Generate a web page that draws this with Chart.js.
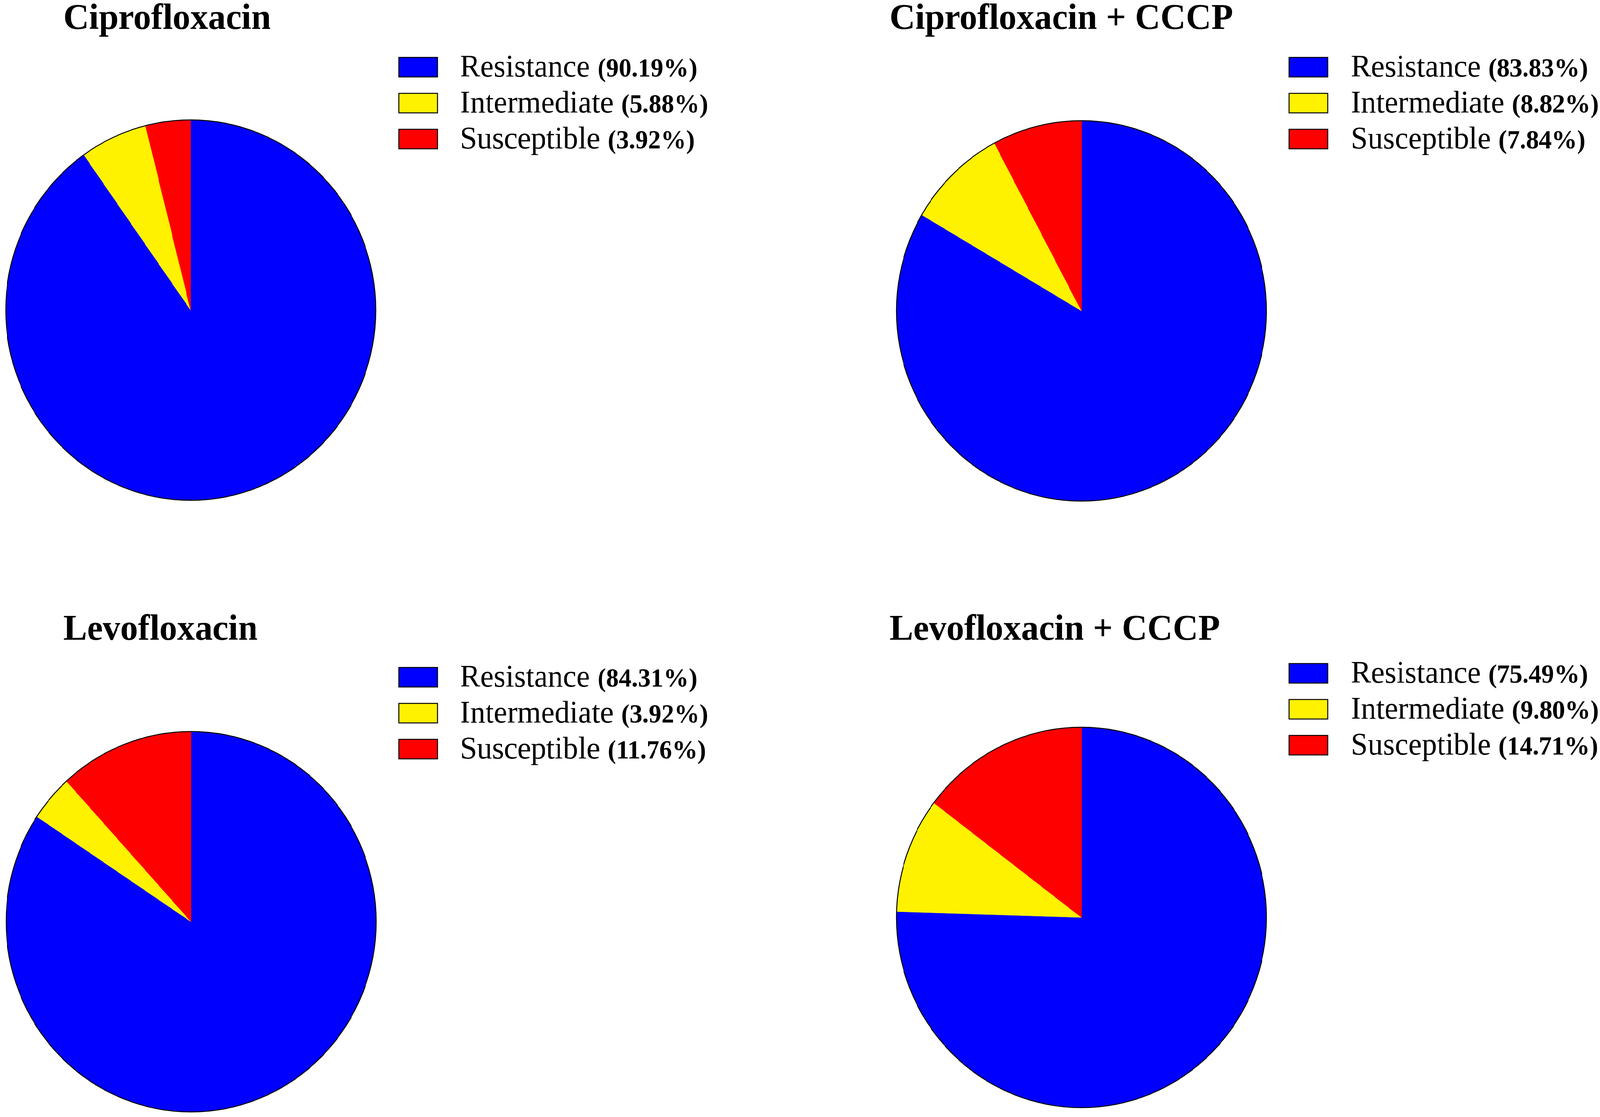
<!DOCTYPE html>
<html>
<head>
<meta charset="utf-8">
<script src="https://cdn.jsdelivr.net/npm/chart.js@4.4.1/dist/chart.umd.min.js"></script>
<style>
  html, body { margin: 0; padding: 0; background: #ffffff; overflow: hidden; }
  #wrap { position: absolute; left: 0; top: 0; width: 4212px; height: 2860px; background: #ffffff; transform-origin: 0 0; }
  canvas { position: absolute; }
</style>
</head>
<body>
<div id="wrap">
  <canvas id="c1" width="2106" height="1430" style="left:0px;top:0px;width:2106px;height:1430px"></canvas>
  <canvas id="c2" width="2106" height="1430" style="left:2106px;top:0px;width:2106px;height:1430px"></canvas>
  <canvas id="c3" width="2106" height="1430" style="left:0px;top:1430px;width:2106px;height:1430px"></canvas>
  <canvas id="c4" width="2106" height="1430" style="left:2106px;top:1430px;width:2106px;height:1430px"></canvas>
</div>
<script>
// ---- data ----
const categories = ['Resistance', 'Intermediate', 'Susceptible'];
const panelTitles = ['Ciprofloxacin', 'Ciprofloxacin + CCCP', 'Levofloxacin', 'Levofloxacin + CCCP'];
const ciprofloxacin = [90.19, 5.88, 3.92];
const ciprofloxacinCCCP = [83.83, 8.82, 7.84];
const levofloxacin = [84.31, 3.92, 11.76];
const levofloxacinCCCP = [75.49, 9.80, 14.71];
const sliceColors = ['#0000FF', '#FFF200', '#FF0000'];

// fit the 4212x2860 design into the actual viewport
(function fit() {
  const sx = window.innerWidth / 4212;
  const sy = window.innerHeight / 2860;
  document.getElementById('wrap').style.transform = 'scale(' + sx + ',' + sy + ')';
})();

// ---- layout (per panel, in panel canvas coords) ----
const panels = [
  { id: 'c1', values: ciprofloxacin,     title: panelTitles[0], cx: 502, cy: 794, titleX: 167, titleY: 74,  boxX: 1050, textX: 1211, rowY: 172 },
  { id: 'c2', values: ciprofloxacinCCCP, title: panelTitles[1], cx: 741, cy: 796, titleX: 236, titleY: 74,  boxX: 1287, textX: 1450, rowY: 172 },
  { id: 'c3', values: levofloxacin,      title: panelTitles[2], cx: 503, cy: 930, titleX: 167, titleY: 208, boxX: 1050, textX: 1211, rowY: 304 },
  { id: 'c4', values: levofloxacinCCCP,  title: panelTitles[3], cx: 741, cy: 919, titleX: 236, titleY: 208, boxX: 1287, textX: 1450, rowY: 294 }
];
const W = 2106, H = 1430, AREA = 1000, RADIUS = 487;

const decorPlugin = {
  id: 'decor',
  afterDatasetsDraw(chart, args, opts) {
    const ctx = chart.ctx;
    const arc = chart.getDatasetMeta(0).data[0];
    ctx.save();
    // outer outline of the pie
    ctx.beginPath();
    ctx.arc(arc.x, arc.y, arc.outerRadius, 0, Math.PI * 2);
    ctx.lineWidth = 2.5;
    ctx.strokeStyle = '#000000';
    ctx.stroke();

    // panel title
    ctx.fillStyle = '#000000';
    ctx.textAlign = 'left';
    ctx.textBaseline = 'alphabetic';
    ctx.font = 'bold 93px "Liberation Serif", "Times New Roman", serif';
    ctx.fillText(opts.title, opts.titleX, opts.titleY);

    // legend
    const labels = chart.data.labels;
    const ds = chart.data.datasets[0];
    labels.forEach((lab, i) => {
      const cy = opts.rowY + i * 92;
      ctx.fillStyle = ds.backgroundColor[i];
      ctx.fillRect(opts.boxX, cy - 25, 102, 50);
      ctx.lineWidth = 2.5;
      ctx.strokeStyle = '#000000';
      ctx.strokeRect(opts.boxX, cy - 25, 102, 50);

      ctx.fillStyle = '#000000';
      ctx.font = '80px "Liberation Serif", "Times New Roman", serif';
      ctx.fillText(lab, opts.textX, cy + 24);
      const w = ctx.measureText(lab + ' ').width;
      ctx.font = 'bold 67px "Liberation Serif", "Times New Roman", serif';
      ctx.fillText('(' + ds.data[i].toFixed(2) + '%)', opts.textX + w, cy + 24);
    });
    ctx.restore();
  }
};

panels.forEach(p => {
  new Chart(document.getElementById(p.id), {
    type: 'pie',
    data: {
      labels: categories,
      datasets: [{
        data: p.values,
        backgroundColor: sliceColors,
        borderColor: sliceColors,
        borderWidth: 1,
        hoverOffset: 0
      }]
    },
    options: {
      responsive: false,
      devicePixelRatio: 1,
      animation: false,
      radius: RADIUS,
      layout: {
        padding: {
          left: p.cx - AREA / 2,
          top: p.cy - AREA / 2,
          right: W - (p.cx + AREA / 2),
          bottom: H - (p.cy + AREA / 2)
        }
      },
      plugins: {
        legend: { display: false },
        tooltip: { enabled: false },
        title: { display: false },
        decor: {
          title: p.title, titleX: p.titleX, titleY: p.titleY,
          boxX: p.boxX, textX: p.textX, rowY: p.rowY
        }
      }
    },
    plugins: [decorPlugin]
  });
});
</script>
</body>
</html>
